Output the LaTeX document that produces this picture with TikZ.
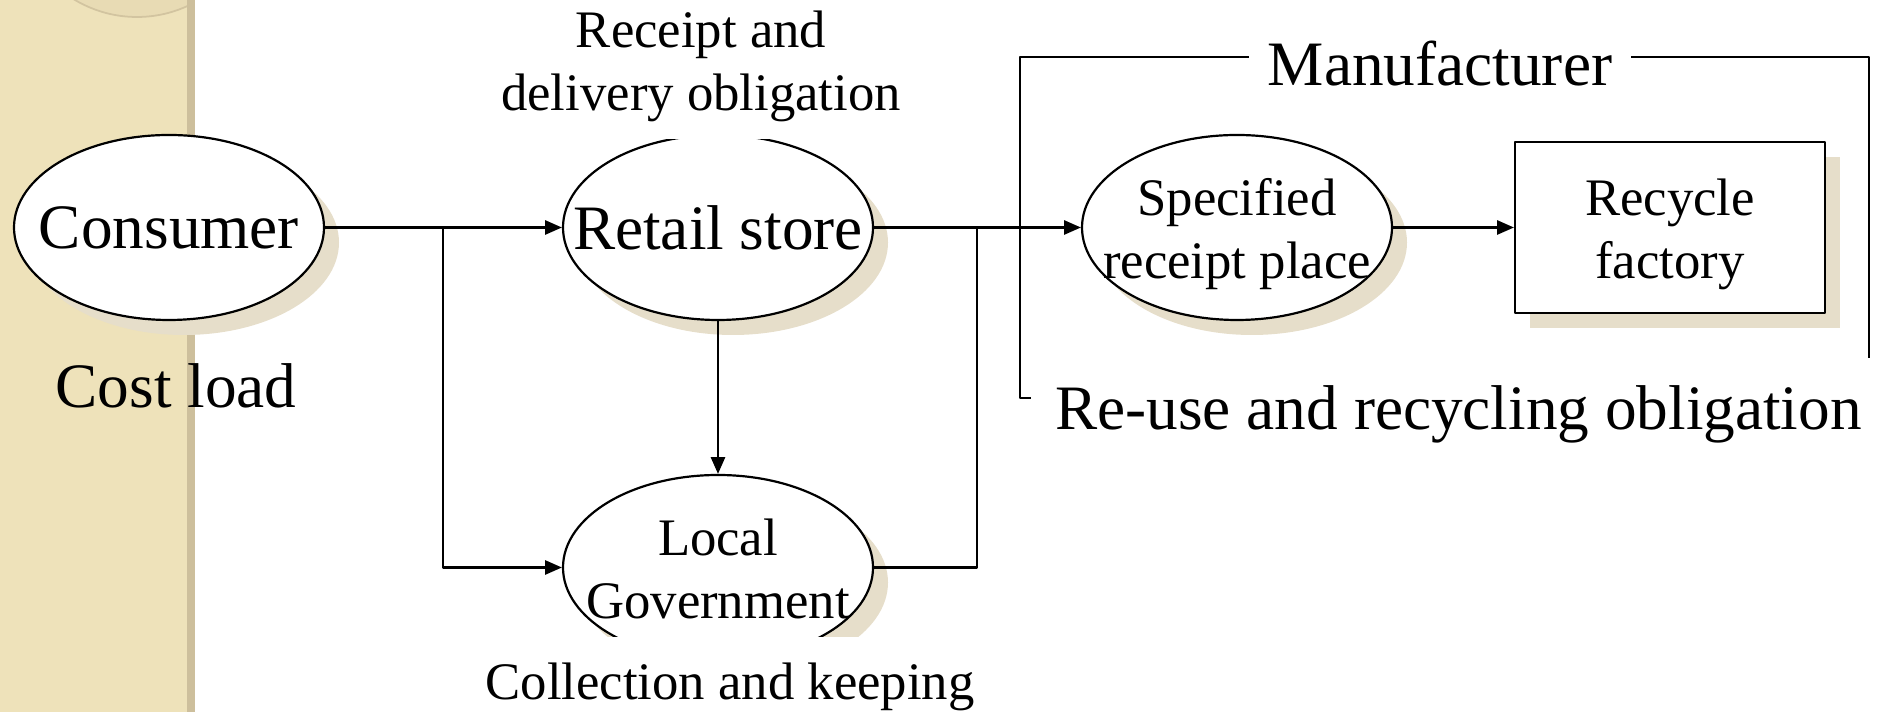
\documentclass[tikz,border=0pt]{standalone}
\usepackage{fontspec}
\setmainfont{Liberation Serif}
\usetikzlibrary{arrows.meta,shapes.geometric,shadows}
\definecolor{bandtan}{HTML}{EEE2BA}
\definecolor{bandedge}{HTML}{CDBF9C}
\definecolor{disctan}{HTML}{E8DBB4}
\definecolor{discline}{HTML}{D2C4A0}
\definecolor{shadowtan}{HTML}{E6DECA}
\newcommand{\bigtxt}{\fontsize{36pt}{41pt}\selectfont}
\newcommand{\smalltxt}{\fontsize{30pt}{36pt}\selectfont}
\newcommand{\twolines}[2]{\makebox[0pt]{\raisebox{6.8pt}[0pt][0pt]{\begin{tabular}[t]{@{}c@{}}#1\\#2\end{tabular}}}}
\begin{document}
\begin{tikzpicture}[line cap=round,line join=round,>={Triangle[length=9.5pt,width=8pt]},x=1cm,y=1cm,line width=1.25pt,
    bub/.style={ellipse, draw, fill=white, minimum width=6.2cm, minimum height=3.7cm, inner sep=0pt,
        drop shadow={shadow xshift=0.3cm, shadow yshift=-0.3cm, fill=shadowtan, opacity=1}},
    plant/.style={rectangle, draw, fill=white, minimum width=6.2cm, minimum height=3.42cm, inner sep=0pt,
        drop shadow={shadow xshift=0.3cm, shadow yshift=-0.3cm, fill=shadowtan, opacity=1}},
    tag/.style={fill=white, anchor=base}]
                        \useasboundingbox (0,0) rectangle (37.7,14.24);

                        \fill[bandtan] (0,0) rectangle (3.74,14.24);
                        \begin{scope}
                            \clip (0,0) rectangle (3.74,14.24);
                            \draw[discline, fill=disctan, line width=1pt] (2.74,16.33) circle (2.43);
                        \end{scope}
                        \fill[bandedge] (3.74,0) rectangle (3.9,14.24);

                        \draw (20.4,6.28) rectangle (37.38,13.1);

                        \node[bub, font=\bigtxt] (consumer) at (3.38,9.69) {\makebox[0pt]{\raisebox{-2pt}{Consumer}}};
                        \node[bub, font=\bigtxt] (retail) at (14.36,9.69) {\makebox[0pt]{Retail store}};
                        \node[bub, font=\smalltxt] (local) at (14.36,2.89) {\twolines{Local}{Government}};
                        \node[bub, font=\smalltxt] (spec) at (24.74,9.69) {\twolines{Specified}{receipt place}};
                        \node[plant, font=\smalltxt] (factory) at (33.4,9.69) {\twolines{Recycle}{factory}};

                        \coordinate (split) at (8.86,9.69);
                        \coordinate (merge) at (19.54,9.69);

                        \draw[->] (consumer) -- (retail);
                        \draw[->] (split) |- (local.west);
                        \draw[->] (retail) -- (local);
                        \draw[->] (retail) -- (spec);
                        \draw (local.east) -| (merge);
                        \draw[->] (spec) -- (factory);

                        \node[font=\bigtxt, anchor=base] (costload) at (3.52,6.08) {Cost load};
                        \node[tag, font=\smalltxt, inner ysep=0.18cm] (receipt) at (14.02,12.02)
                            {\begin{tabular}[b]{@{}c@{}}Receipt and\\delivery obligation\end{tabular}};
                        \node[tag, font=\smalltxt, inner xsep=0.2cm, inner ysep=0.52cm] (collect) at (14.6,0.24) {Collection and keeping};
                        \node[tag, font=\bigtxt, inner xsep=0.38cm, inner ysep=0.2cm] (maker) at (28.8,12.52) {Manufacturer};
                        \node[tag, font=\bigtxt, inner xsep=0.48cm, inner ysep=0.56cm] (reuse) at (29.17,5.64) {Re-use and recycling obligation};
                    \end{tikzpicture}
\end{document}
